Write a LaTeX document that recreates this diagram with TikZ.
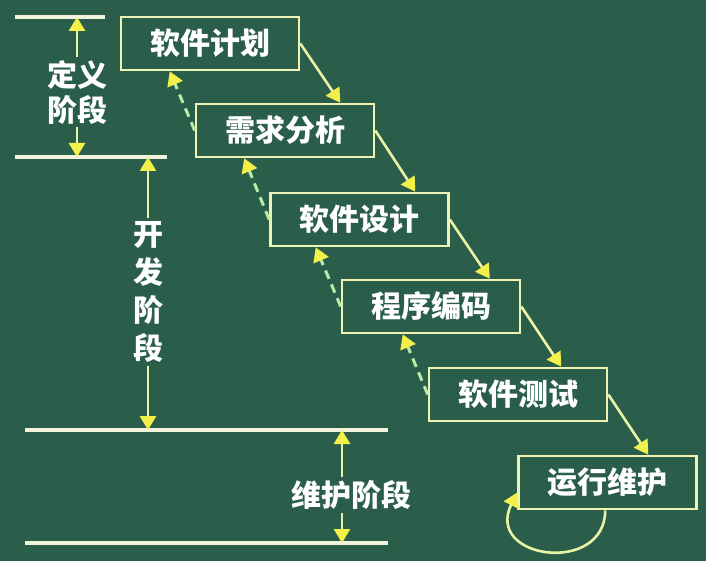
\documentclass[tikz,border=0pt]{standalone}
\usepackage{fontspec}
\setmainfont{Noto Sans CJK SC}
\usetikzlibrary{arrows.meta, positioning, calc}
\definecolor{board}{HTML}{2A5E4B}
\definecolor{chalk}{HTML}{F2F3DC}
\definecolor{boxline}{HTML}{EFF3B4}
\definecolor{lemon}{HTML}{F3F04A}
\definecolor{shaft}{HTML}{E9F3A6}
\definecolor{mint}{HTML}{B9EBA6}

\tikzset{
  stage/.style={draw=boxline, line width=2.6pt, minimum width=178pt, minimum height=53pt,
    inner sep=0pt, text=white, font=\fontsize{30}{32}\selectfont\bfseries},
  phase/.style={text=white, inner sep=3pt, align=center, font=\bfseries},
  tip/.style={-{Triangle[width=16pt, length=14pt, color=lemon]}},
  flow/.style={tip, draw=shaft, line width=2.6pt},
  back/.style={tip, draw=mint, line width=3pt, dash pattern=on 9pt off 6pt},
  rule/.style={draw=chalk, line width=3.5pt}
}

\begin{document}
\begin{tikzpicture}[x=1pt, y=-1pt]
  % board, 706 x 561, units are pixels (y downwards)
  \fill[board] (0,0) rectangle (706,561);
  \useasboundingbox (0,0) rectangle (706,561);

  % phase rules on the left
  \draw[rule] (15,17) -- (105,17);
  \draw[rule] (15,157) -- (167,157);
  \draw[rule] (25,430) -- (388,430);
  \draw[rule] (25,543) -- (388,543);
  \coordinate (dyTop) at (77,17);
  \coordinate (dyBot) at (77,157);
  \coordinate (kfTop) at (148,157);
  \coordinate (kfBot) at (148,430);
  \coordinate (whTop) at (342,430);
  \coordinate (whBot) at (342,543);

  % phase labels
  \node[phase, font=\fontsize{30}{35}\selectfont\bfseries] (dy) at (77,92) {定义\\阶段};
  \node[phase, font=\fontsize{30}{38}\selectfont\bfseries] (kf) at (148,292) {开\\发\\阶\\段};
  \node[phase, font=\fontsize{30}{32}\selectfont\bfseries] (wh) at (351,495) {维护阶段};
  \draw[flow] (dy.north) -- (dyTop);
  \draw[flow] (dy.south) -- (dyBot);
  \draw[flow] (kf.north) -- (kfTop);
  \draw[flow] (kf.south) -- (kfBot);
  \draw[flow] (wh.north -| whTop) -- (whTop);
  \draw[flow] (wh.south -| whBot) -- (whBot);

  % waterfall steps
  \foreach \n/\x/\y/\t in {jh/210/43.5/软件计划, xq/285/130.5/需求分析, sj/359.5/219.5/软件设计,
                           bm/431/306.5/程序编码, cs/518/394.5/软件测试, yw/607.5/482.5/运行维护}
    \node[stage] (\n) at (\x,\y) {\t};

  % forward (solid) arrows
  \foreach \a/\b in {jh/xq, xq/sj, sj/bm, bm/cs, cs/yw}
    \draw[flow] (\a.east) -- ([xshift=40pt]\a.east |- \b.north);
  % feedback (dashed) arrows
  \foreach \a/\b in {jh/xq, xq/sj, sj/bm, bm/cs}
    \draw[back] (\b.west) -- ([xshift=-25pt]\b.west |- \a.south);

  % maintenance loop
  \draw[flow] ([xshift=88pt]yw.south west) .. controls +(0,65) and +(-33,67) .. ([yshift=-10pt]yw.west);
\end{tikzpicture}
\end{document}
